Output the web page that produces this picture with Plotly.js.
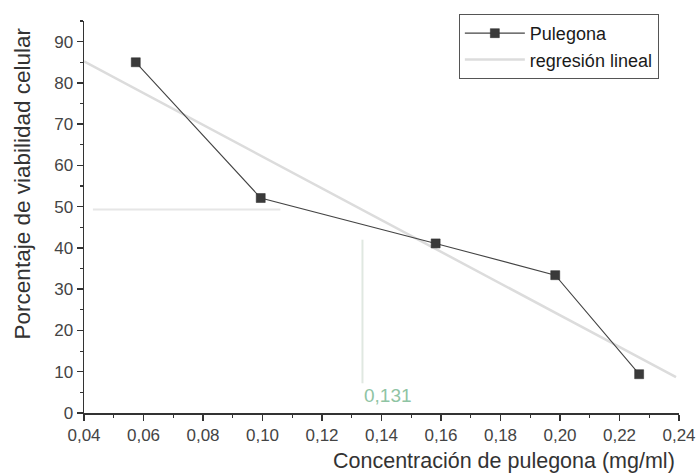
<!DOCTYPE html>
<html>
<head>
<meta charset="utf-8">
<script src="https://cdn.plot.ly/plotly-3.0.1.min.js"></script>
<style>html,body{margin:0;padding:0;background:#fff}#chart{width:698px;height:474px}</style>
</head>
<body>
<div id="chart"></div>
<script>
// Data
const concentracion = [0.0574, 0.0994, 0.1582, 0.1984, 0.2266];
const viabilidad = [85.0, 52.1, 41.1, 33.4, 9.4];
const regresionX = [0.040, 0.239];
const regresionY = [85.2, 8.7];
const guiaHorizX = [0.043, 0.106];
const guiaHorizY = [49.3, 49.3];
const guiaVertX = [0.1336, 0.1336];
const guiaVertY = [7.2, 42.0];
const etiquetaIC50 = "0,131";

const FONT = "Liberation Sans, Arial, sans-serif";

const traces = [
  {
    x: guiaHorizX, y: guiaHorizY, type: 'scatter', mode: 'lines',
    line: {color: '#e6e6e6', width: 2}, showlegend: false, hoverinfo: 'skip'
  },
  {
    x: guiaVertX, y: guiaVertY, type: 'scatter', mode: 'lines',
    line: {color: '#e0e8e1', width: 2}, showlegend: false, hoverinfo: 'skip'
  },
  {
    x: regresionX, y: regresionY, type: 'scatter', mode: 'lines',
    name: 'regresión lineal', legendrank: 2,
    line: {color: '#dcdcdc', width: 2.5}
  },
  {
    x: concentracion, y: viabilidad, type: 'scatter', mode: 'lines+markers',
    name: 'Pulegona', legendrank: 1,
    line: {color: '#444444', width: 1.1},
    marker: {symbol: 'square', size: 9, color: '#3a3a3a', line: {color: '#2a2a2a', width: 0.5}}
  }
];

const layout = {
  width: 698, height: 474,
  margin: {l: 84, r: 19, t: 21, b: 61},
  paper_bgcolor: '#ffffff', plot_bgcolor: '#ffffff',
  separators: ', ',
  font: {family: FONT, color: '#333333', size: 17},
  xaxis: {
    range: [0.04, 0.24], dtick: 0.02, tick0: 0.04, tickformat: '.2f',
    showgrid: false, zeroline: false,
    showline: true, linecolor: '#333', linewidth: 1.5,
    ticks: 'outside', ticklen: 6, tickwidth: 1.5, tickcolor: '#333',
    minor: {dtick: 0.01, ticks: 'outside', ticklen: 3, tickwidth: 1.2, tickcolor: '#333', showgrid: false},
    tickfont: {family: FONT, size: 17, color: '#444'},
    fixedrange: true
  },
  yaxis: {
    range: [0, 95], dtick: 10, tick0: 0,
    showgrid: false, zeroline: false,
    showline: true, linecolor: '#333', linewidth: 1.5,
    ticks: 'outside', ticklen: 6, tickwidth: 1.5, tickcolor: '#333',
    minor: {dtick: 5, ticks: 'outside', ticklen: 3, tickwidth: 1.2, tickcolor: '#333', showgrid: false},
    tickfont: {family: FONT, size: 17, color: '#444'},
    fixedrange: true
  },
  showlegend: true,
  legend: {
    x: 0.63, y: 1.018, xanchor: 'left', yanchor: 'top',
    bgcolor: '#ffffff', bordercolor: '#555', borderwidth: 1,
    font: {family: FONT, size: 18, color: '#1a1a1a'},
    itemwidth: 60, tracegroupgap: 0, traceorder: 'normal'
  },
  annotations: [
    {
      text: 'Concentración de pulegona (mg/ml)', xref: 'paper', yref: 'paper',
      x: 0.996, y: -0.122, xanchor: 'right', yanchor: 'middle', showarrow: false,
      font: {family: FONT, size: 21.5, color: '#333'}
    },
    {
      text: 'Porcentaje de viabilidad celular', xref: 'paper', yref: 'paper',
      x: -0.104, y: 0.586, xanchor: 'center', yanchor: 'middle', textangle: -90, showarrow: false,
      font: {family: FONT, size: 22.5, color: '#333'}
    },
    {
      text: etiquetaIC50, xref: 'x', yref: 'y',
      x: guiaVertX[0], y: 4.3, xanchor: 'left', yanchor: 'middle', showarrow: false,
      font: {family: FONT, size: 19, color: '#8fc4a4'}
    }
  ]
};

Plotly.newPlot('chart', traces, layout, {displayModeBar: false, staticPlot: true});
</script>
</body>
</html>
